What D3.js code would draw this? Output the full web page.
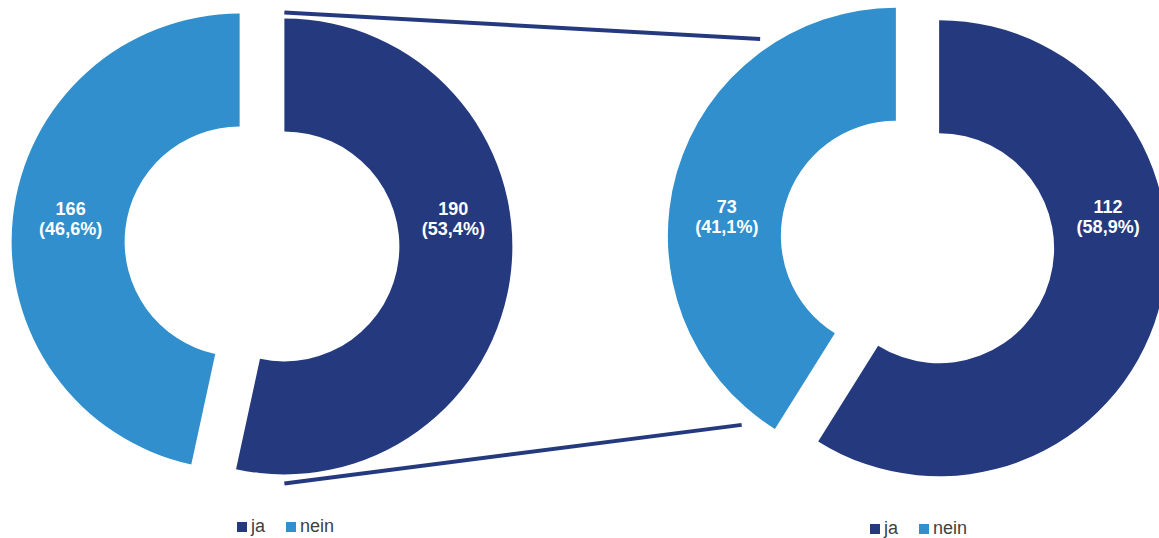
<!DOCTYPE html>
<html>
<head>
<meta charset="utf-8">
<script src="https://cdn.jsdelivr.net/npm/d3@7"></script>
<style>
  html, body { margin: 0; padding: 0; background: #fff; }
  svg { display: block; }
</style>
</head>
<body>
<svg id="chart" width="1159" height="538"></svg>
<script>
// Answer categories and the two survey groups
const categories = ["ja", "nein"];
const leftCounts = [190, 166];
const leftPercents = [53.4, 46.6];
const rightCounts = [112, 73];
const rightPercents = [58.9, 41.1];

const colors = ["#253A7E", "#308FCC"];
const fmt = v => "(" + v.toFixed(1).replace(".", ",") + "%)";

const svg = d3.select("#chart");

const outerR = 228, innerR = 115, explode = 22.5, labelR = 169;

const pie = d3.pie().sort(null).value(d => d.pct);
const arc = d3.arc().innerRadius(innerR).outerRadius(outerR);

function donut(cx, cy, counts, percents) {
  const data = categories.map((c, i) => ({ cat: c, count: counts[i], pct: percents[i], i }));
  const arcs = pie(data);
  const g = svg.append("g").attr("transform", `translate(${cx},${cy})`);
  arcs.forEach(a => {
    const mid = (a.startAngle + a.endAngle) / 2;
    const ox = Math.sin(mid) * explode, oy = -Math.cos(mid) * explode;
    a.ox = ox; a.oy = oy;
    const s = g.append("g").attr("transform", `translate(${ox},${oy})`);
    s.append("path").attr("d", arc(a)).attr("fill", colors[a.data.i]);
    // label sits inside the ring, level with the hole
    const side = mid < Math.PI ? 1 : -1;
    const t = s.append("text")
      .attr("y", -oy - 29)
      .attr("text-anchor", "middle")
      .attr("fill", "#fff")
      .attr("font-family", "Liberation Sans, Arial, sans-serif")
      .attr("font-weight", "bold")
      .attr("font-size", 18);
    t.append("tspan").attr("x", side * labelR).attr("dy", 0).text(a.data.count);
    t.append("tspan").attr("x", side * labelR).attr("dy", 20).text(fmt(a.data.pct));
  });
  return { cx, cy, arcs };
}

const L = donut(262, 244, leftCounts, leftPercents);
const R = donut(917.5, 242, rightCounts, rightPercents);

// connector lines from the left "ja" slice to the right donut
function polar(c, a, r, angle) {
  return [c.cx + a.ox + Math.sin(angle) * r, c.cy + a.oy - Math.cos(angle) * r];
}
const lja = L.arcs[0], rnein = R.arcs[1];
const p1 = polar(L, lja, outerR + 6, 0);
const p2 = polar(R, rnein, outerR + 11, 325.4 * Math.PI / 180);
const p3 = polar(L, lja, outerR + 9, Math.PI);
const p4 = polar(R, rnein, outerR + 16, 219.2 * Math.PI / 180);
[[p1, p2], [p3, p4]].forEach(([a, b]) => {
  svg.append("line")
    .attr("x1", a[0]).attr("y1", a[1]).attr("x2", b[0]).attr("y2", b[1])
    .attr("stroke", colors[0]).attr("stroke-width", 4);
});

// legends
function legend(x, y) {
  const g = svg.append("g").attr("transform", `translate(${x},${y})`);
  const step = d3.scaleOrdinal().domain(categories).range([0, 49]);
  categories.forEach((c, i) => {
    const gx = step(c);
    g.append("rect").attr("x", gx).attr("y", -10).attr("width", 10).attr("height", 10).attr("fill", colors[i]);
    g.append("text").attr("x", gx + 14).attr("y", 0)
      .attr("font-family", "Liberation Sans, Arial, sans-serif")
      .attr("font-size", 18).attr("fill", "#404040").text(c);
  });
}
legend(237, 532);
legend(870, 534);
</script>
</body>
</html>
